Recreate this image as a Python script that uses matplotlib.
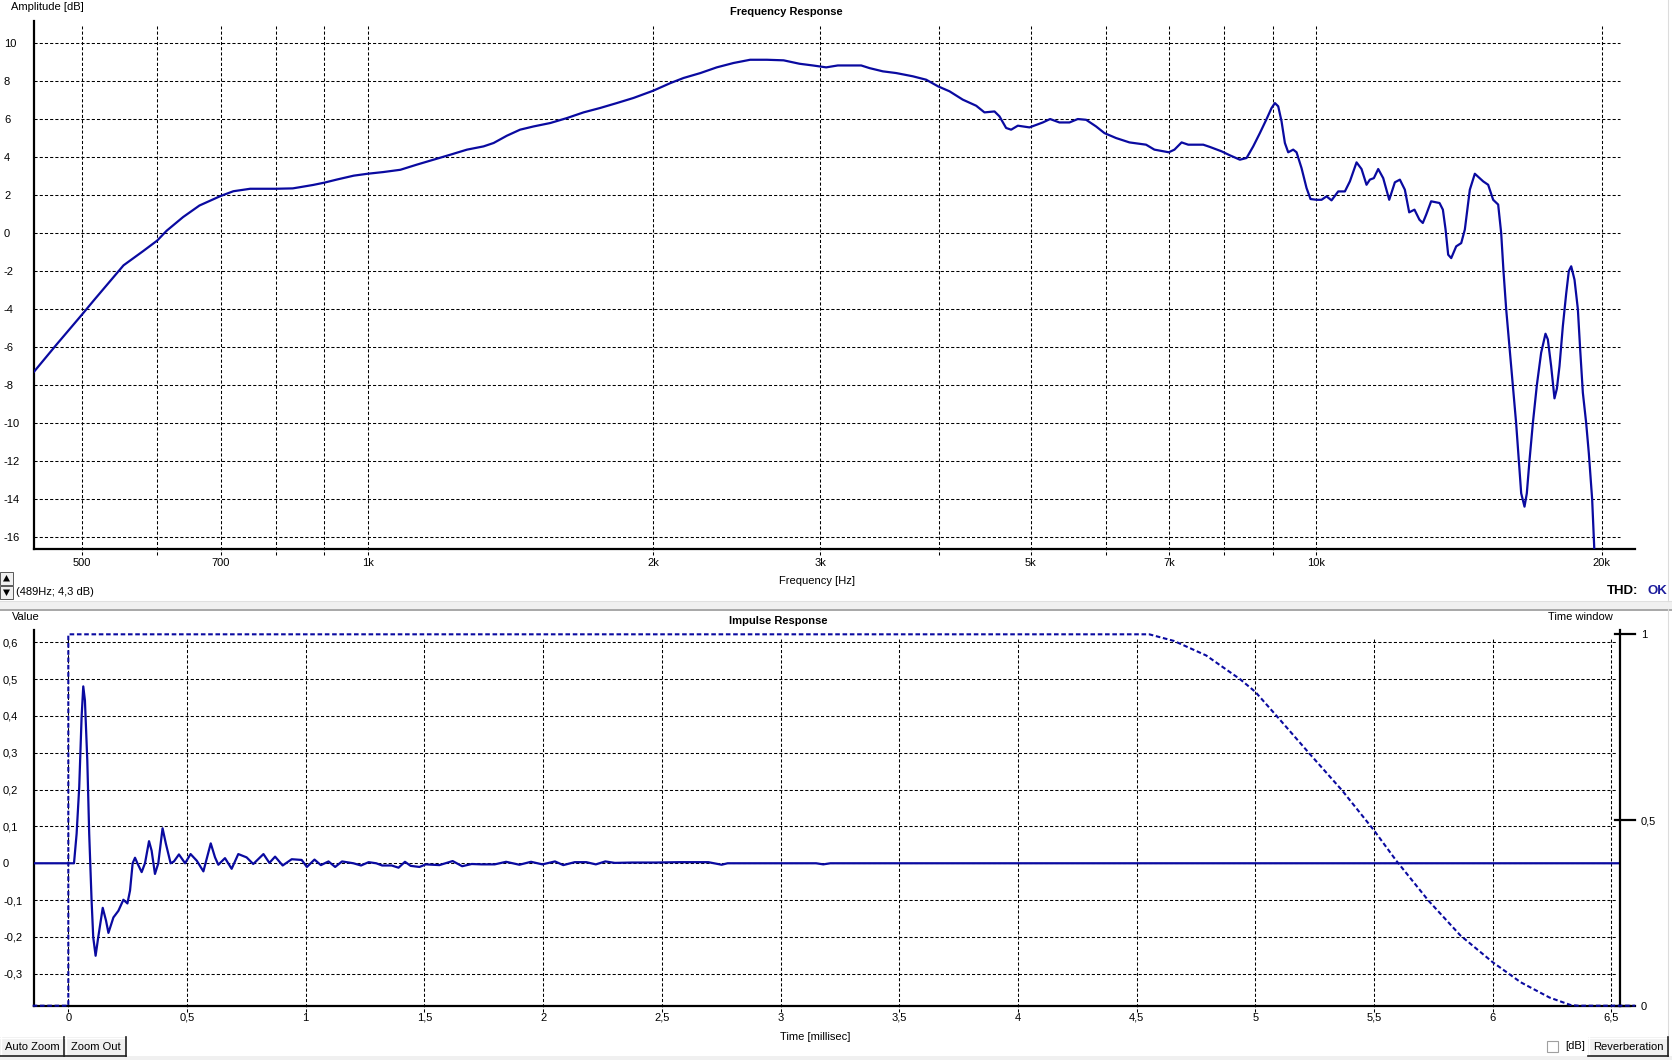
import matplotlib
matplotlib.use('Agg')
import matplotlib.pyplot as plt
import matplotlib.transforms as mtransforms
from matplotlib.patches import Rectangle, Polygon
from matplotlib.ticker import NullLocator

plt.rcParams['font.family'] = ['Liberation Sans', 'DejaVu Sans']
plt.rcParams['font.size'] = 8

# ---------------- data ----------------
freq_hz = [445, 470, 500, 516, 553, 580, 600, 614, 639, 665, 700, 722, 752, 800, 834, 876, 900,
           929, 967, 1000, 1039, 1083, 1127, 1174, 1222, 1273, 1325, 1358, 1402, 1448, 1496,
           1558, 1622, 1689, 1758, 1831, 1907, 2000, 2085, 2153, 2243, 2334, 2431, 2531, 2636,
           2745, 2853, 2947, 3044, 3131, 3314, 3382, 3493, 3608, 3756, 3880, 3994, 4106, 4241,
           4381, 4470, 4580, 4636, 4711, 4769, 4847, 4986, 5150, 5242, 5362, 5494, 5606, 5721,
           5861, 5981, 6152, 6355, 6617, 6752, 6992, 7089, 7213, 7330, 7602, 7727, 7948, 8110,
           8309, 8445, 8582, 8722, 8865, 8973, 9046, 9119, 9193, 9268, 9343, 9457, 9534, 9650,
           9768, 9863, 10009, 10131, 10254, 10379, 10549, 10721, 10852, 11029, 11163, 11299,
           11391, 11502, 11624, 11766, 11939, 12104, 12252, 12401, 12532, 12694, 12848, 12953,
           13058, 13218, 13490, 13600, 13688, 13776, 13878, 14047, 14219, 14344, 14519, 14697,
           14997, 15180, 15365, 15553, 15667, 15755, 15858, 15986, 16115, 16246, 16353, 16447,
           16580, 16673, 16780, 16920, 17085, 17263, 17446, 17546, 17687, 17831, 17934, 18050,
           18197, 18344, 18463, 18570, 18720, 18872, 18977, 19102, 19257, 19382, 19538, 19651]
amp_db = [-7.3, -5.87, -4.29, -3.47, -1.7, -0.95, -0.4, 0.12, 0.84, 1.45, 1.95, 2.2, 2.33, 2.33,
          2.35, 2.53, 2.65, 2.82, 3.02, 3.12, 3.21, 3.33, 3.60, 3.86, 4.12, 4.39, 4.56, 4.74,
          5.12, 5.44, 5.61, 5.79, 6.05, 6.35, 6.58, 6.84, 7.11, 7.49, 7.89, 8.16, 8.42, 8.72,
          8.95, 9.12, 9.12, 9.09, 8.91, 8.82, 8.72, 8.82, 8.82, 8.68, 8.51, 8.42, 8.25, 8.07,
          7.72, 7.46, 7.02, 6.70, 6.35, 6.40, 6.14, 5.53, 5.44, 5.65, 5.56, 5.82, 6.0, 5.82,
          5.82, 6.0, 5.96, 5.61, 5.26, 5.0, 4.77, 4.65, 4.39, 4.25, 4.39, 4.77, 4.65, 4.65,
          4.53, 4.30, 4.09, 3.86, 3.95, 4.56, 5.26, 6.0, 6.58, 6.84, 6.67, 5.88, 4.74, 4.25,
          4.39, 4.25, 3.42, 2.37, 1.79, 1.75, 1.75, 1.93, 1.72, 2.19, 2.19, 2.72, 3.72, 3.37,
          2.54, 2.81, 2.89, 3.37, 2.89, 1.75, 2.67, 2.81, 2.28, 1.09, 1.23, 0.70, 0.53, 0.96,
          1.67, 1.58, 1.23, 0.2, -1.14, -1.32, -0.70, -0.53, 0.18, 2.28, 3.12, 2.72, 2.54,
          1.75, 1.5, 0.0, -2.0, -4.0, -6.0, -8.0, -10.0, -12.0, -13.7, -14.4, -13.7, -12.0,
          -10.0, -8.0, -6.3, -5.3, -5.6, -7.0, -8.7, -8.2, -7.0, -4.9, -3.2, -2.0, -1.75,
          -2.46, -4.0, -6.1, -8.4, -10.0, -11.6, -14.0, -16.9]

imp_t_ms = [-0.15, 0.0, 0.024, 0.035, 0.046, 0.056, 0.063, 0.070, 0.080, 0.088, 0.098, 0.105,
            0.115, 0.126, 0.145, 0.159, 0.169, 0.190, 0.211, 0.232, 0.249, 0.260, 0.271, 0.281,
            0.291, 0.309, 0.323, 0.340, 0.351, 0.365, 0.379, 0.397, 0.411, 0.431, 0.445, 0.466,
            0.492, 0.515, 0.541, 0.569, 0.600, 0.618, 0.632, 0.660, 0.688, 0.716, 0.751, 0.779,
            0.822, 0.847, 0.871, 0.903, 0.941, 0.983, 1.005, 1.037, 1.064, 1.096, 1.124, 1.153,
            1.201, 1.233, 1.265, 1.297, 1.322, 1.362, 1.391, 1.418, 1.442, 1.479, 1.506, 1.563,
            1.619, 1.659, 1.699, 1.740, 1.796, 1.844, 1.900, 1.949, 1.997, 2.050, 2.085, 2.133,
            2.182, 2.222, 2.262, 2.302, 2.375, 2.471, 2.576, 2.696, 2.752, 2.777, 3.15, 3.18,
            3.21, 6.6]
imp_val = [0.0, 0.0, 0.0, 0.08, 0.207, 0.397, 0.48, 0.442, 0.279, 0.08, -0.10, -0.201, -0.251,
           -0.201, -0.121, -0.156, -0.189, -0.147, -0.129, -0.099, -0.109, -0.074, 0.0, 0.015,
           0.0, -0.024, 0.0, 0.06, 0.034, -0.029, 0.0, 0.095, 0.053, 0.0, 0.005, 0.024, 0.0,
           0.025, 0.007, -0.022, 0.054, 0.016, -0.004, 0.014, -0.015, 0.025, 0.016, -0.002,
           0.025, 0.001, 0.018, -0.006, 0.011, 0.009, -0.010, 0.010, -0.005, 0.005, -0.010,
           0.005, 0.0, -0.006, 0.003, 0.0, -0.006, -0.006, -0.012, 0.004, -0.007, -0.010,
           -0.003, -0.005, 0.006, -0.008, -0.002, -0.003, -0.003, 0.004, -0.004, 0.004, -0.003,
           0.005, -0.005, 0.003, 0.003, -0.003, 0.005, 0.001, 0.002, 0.002, 0.003, 0.003,
           -0.004, 0.0, 0.0, -0.003, 0.0, 0.0]

win_t_ms = [-0.15, 0.0, 0.0, 4.553, 4.658, 4.793, 4.936, 5.0, 5.094, 5.229, 5.365, 5.5, 5.593,
            5.729, 5.864, 6.0, 6.118, 6.239, 6.327, 6.36, 6.6]
win_val = [0.0, 0.0, 1.0, 1.0, 0.982, 0.943, 0.879, 0.845, 0.777, 0.678, 0.580, 0.472, 0.391,
           0.283, 0.189, 0.117, 0.063, 0.022, 0.002, 0.0, 0.0]

freq_grid = [500, 600, 700, 800, 900, 1000, 2000, 3000, 4000, 5000, 6000, 7000, 8000, 9000,
             10000, 20000]
freq_ticks = [500, 700, 1000, 2000, 3000, 5000, 7000, 10000, 20000]
freq_ticklabels = ['500', '700', '1k', '2k', '3k', '5k', '7k', '10k', '20k']
db_ticks = [10, 8, 6, 4, 2, 0, -2, -4, -6, -8, -10, -12, -14, -16]
time_ticks = [0, 0.5, 1, 1.5, 2, 2.5, 3, 3.5, 4, 4.5, 5, 5.5, 6, 6.5]
time_ticklabels = ['0', '0,5', '1', '1,5', '2', '2,5', '3', '3,5', '4', '4,5', '5', '5,5', '6', '6,5']
val_ticks = [0.6, 0.5, 0.4, 0.3, 0.2, 0.1, 0, -0.1, -0.2, -0.3]
val_ticklabels = ['0,6', '0,5', '0,4', '0,3', '0,2', '0,1', '0', '-0,1', '-0,2', '-0,3']
win_ticks = [0, 0.5, 1]
win_ticklabels = ['0', '0,5', '1']

# ---------------- figure ----------------
W, H = 1672, 1060
fig = plt.figure(figsize=(W / 100, H / 100), dpi=100)
fig.patch.set_facecolor('white')
PX = mtransforms.Affine2D().scale(1.0 / W, -1.0 / H).translate(0, 1) + fig.transFigure

LINE = '#0a0aa0'
GRID_KW = dict(color='black', lw=0.75, linestyle=(0, (3, 2)), zorder=1)
SPINE_W = 1.6
FS = 8


def px2pt(p):
    return p * 72.0 / 100.0


# ---------------- top: frequency response ----------------
t_left, t_right, t_top, t_bot = 34, 1635, 21, 549
ax1 = fig.add_axes([t_left / W, 1 - t_bot / H, (t_right - t_left) / W, (t_bot - t_top) / H])
ax1.set_xscale('log')
ax1.set_xlim(445, 21680)
ax1.set_ylim(-16.63, 11.16)
for s in ['top', 'right']:
    ax1.spines[s].set_visible(False)
for s in ['left', 'bottom']:
    ax1.spines[s].set_linewidth(SPINE_W)
    ax1.spines[s].set_color('black')
ax1.xaxis.set_minor_locator(NullLocator())
ax1.set_xticks(freq_ticks)
ax1.set_xticklabels(freq_ticklabels)
ax1.set_yticks(db_ticks)
ax1.set_yticklabels([str(v) for v in db_ticks])
ax1.tick_params(axis='x', length=0, pad=px2pt(9), labelsize=FS)
ax1.tick_params(axis='y', length=0, pad=px2pt(t_left - 4), labelsize=FS)
for lab in ax1.get_yticklabels():
    lab.set_ha('left')

h1 = t_bot - t_top
for g in freq_grid:
    ax1.plot([g, g], [-6.0 / h1, (t_bot - 26) / h1], transform=ax1.get_xaxis_transform(),
             clip_on=False, **GRID_KW)
for g in db_ticks:
    ax1.plot([0, (1620 - t_left) / (t_right - t_left)], [g, g],
             transform=ax1.get_yaxis_transform(), clip_on=False, **GRID_KW)

ax1.plot(freq_hz, amp_db, color=LINE, lw=1.6, zorder=3, solid_joinstyle='round')

# ---------------- bottom: impulse response ----------------
b_left, b_right, b_top, b_bot = 34, 1620, 630, 1005.7
ax2 = fig.add_axes([b_left / W, 1 - b_bot / H, (b_right - b_left) / W, (b_bot - b_top) / H])
ax2.set_xlim(-0.1445, 6.536)
ax2.set_ylim(-0.3865, 0.633)
for s in ['top', 'right']:
    ax2.spines[s].set_visible(False)
for s in ['left', 'bottom']:
    ax2.spines[s].set_linewidth(SPINE_W)
    ax2.spines[s].set_color('black')
ax2.set_xticks(time_ticks)
ax2.set_xticklabels(time_ticklabels)
ax2.set_yticks(val_ticks)
ax2.set_yticklabels(val_ticklabels)
ax2.tick_params(axis='x', length=0, pad=px2pt(7), labelsize=FS)
ax2.tick_params(axis='y', length=0, pad=px2pt(b_left - 3), labelsize=FS)
for lab in ax2.get_yticklabels():
    lab.set_ha('left')

h2 = b_bot - b_top
for g in time_ticks:
    ax2.plot([g, g], [-6.0 / h2, (b_bot - 637) / h2], transform=ax2.get_xaxis_transform(),
             clip_on=False, **GRID_KW)
for g in val_ticks:
    ax2.plot([0, (1616 - b_left) / (b_right - b_left)], [g, g],
             transform=ax2.get_yaxis_transform(), clip_on=False, **GRID_KW)
# bottom axis line continues a little past the window axis
ax2.plot([1.0, (1630 - b_left) / (b_right - b_left)], [0, 0], transform=ax2.transAxes,
         color='black', lw=SPINE_W, clip_on=False, zorder=2.5)

ax2.plot(imp_t_ms, imp_val, color=LINE, lw=1.6, zorder=3, solid_joinstyle='round')

ax3 = ax2.twinx()
ax3.set_ylim(0, 1.0116)
for s in ['top', 'left', 'bottom']:
    ax3.spines[s].set_visible(False)
ax3.spines['right'].set_linewidth(SPINE_W)
ax3.spines['right'].set_color('black')
ax3.set_yticks(win_ticks)
ax3.set_yticklabels(win_ticklabels)
ax3.tick_params(axis='y', length=0, pad=px2pt(1641 - b_right), labelsize=FS)
for v in win_ticks:
    ax3.plot([(1615 - b_left) / (b_right - b_left), (1635 - b_left) / (b_right - b_left)], [v, v],
             transform=ax3.get_yaxis_transform(), color='black', lw=SPINE_W, clip_on=False)
ax3.plot(win_t_ms, win_val, color=LINE, lw=1.5, linestyle=(0, (2.2, 1.3)), zorder=3,
         clip_on=False)

# ---------------- texts ----------------
fig.text(11, 7, 'Amplitude [dB]', transform=PX, ha='left', va='center', fontsize=FS)
fig.text(786, 12, 'Frequency Response', transform=PX, ha='center', va='center',
         fontsize=FS, fontweight='bold')
fig.text(817, 581, 'Frequency [Hz]', transform=PX, ha='center', va='center', fontsize=FS)
fig.text(16, 592, '(489Hz; 4,3 dB)', transform=PX, ha='left', va='center', fontsize=FS)
fig.text(1607, 591, 'THD:', transform=PX, ha='left', va='center', fontsize=9.5,
         fontweight='bold')
fig.text(1647, 591, 'OK', transform=PX, ha='left', va='center', fontsize=9.5,
         fontweight='bold', color='#1c1c9c')

fig.text(12, 617, 'Value', transform=PX, ha='left', va='center', fontsize=FS)
fig.text(778, 621.5, 'Impulse Response', transform=PX, ha='center', va='center',
         fontsize=FS, fontweight='bold')
fig.text(1548, 617, 'Time window', transform=PX, ha='left', va='center', fontsize=FS)
fig.text(815, 1036.5, 'Time [millisec]', transform=PX, ha='center', va='center', fontsize=FS)

# ---------------- window chrome ----------------
def rect(x0, y0, x1, y1, fc, ec='none', lw=0.0, z=0):
    fig.patches.append(Rectangle((x0, y1), x1 - x0, y0 - y1, transform=PX, facecolor=fc,
                                 edgecolor=ec, lw=lw, zorder=z))


def hline(x0, x1, y, color, lw=1.0):
    fig.add_artist(plt.Line2D([x0, x1], [y, y], transform=PX, color=color, lw=lw))


def vline(x, y0, y1, color, lw=1.0):
    fig.add_artist(plt.Line2D([x, x], [y0, y1], transform=PX, color=color, lw=lw))


# splitter between panels
rect(0, 601, W, 609, '#f0f0f0')
hline(0, W, 601, '#e0e0e0', 0.8)
hline(0, W, 609.5, '#a0a0a0', 1.3)
vline(1668, 0, 601, '#dcdcdc', 0.8)
vline(1668, 609, 1056, '#dcdcdc', 0.8)

# up/down spinner
for (y0, y1, tri) in [(572, 585, 'up'), (586, 599, 'down')]:
    rect(0, y0, 13, y1, '#f0f0f0', ec='#404040', lw=0.6)
    cx = 6.5
    if tri == 'up':
        pts = [(cx - 3.5, y1 - 3.5), (cx + 3.5, y1 - 3.5), (cx, y0 + 3)]
    else:
        pts = [(cx - 3.5, y0 + 3.5), (cx + 3.5, y0 + 3.5), (cx, y1 - 3)]
    fig.patches.append(Polygon(pts, closed=True, transform=PX, facecolor='black',
                               edgecolor='none'))

# bottom strip
rect(0, 1056, W, H, '#f0f0f0')


def button(x0, x1, y0, y1, label):
    rect(x0, y0, x1, y1, '#f0f0f0', z=1)
    hline(x0, x1, y0 + 0.5, 'white', 1.0)
    vline(x0 + 0.5, y0, y1, 'white', 1.0)
    hline(x0, x1, y1 - 0.5, '#202020', 1.2)
    vline(x1 - 0.5, y0, y1, '#202020', 1.2)
    fig.text((x0 + x1) / 2, (y0 + y1) / 2 + 0.5, label, transform=PX, ha='center',
             va='center', fontsize=FS)


button(0, 64, 1037, 1056, 'Auto Zoom')
button(65, 126, 1037, 1056, 'Zoom Out')
button(1588, 1668, 1037, 1056, 'Reverberation')
rect(1547, 1041, 1558, 1052, 'white', ec='#a0a0a0', lw=0.8)
fig.text(1565, 1046, '[dB]', transform=PX, ha='left', va='center', fontsize=FS)

fig.savefig('out.png', dpi=100, facecolor='white')
